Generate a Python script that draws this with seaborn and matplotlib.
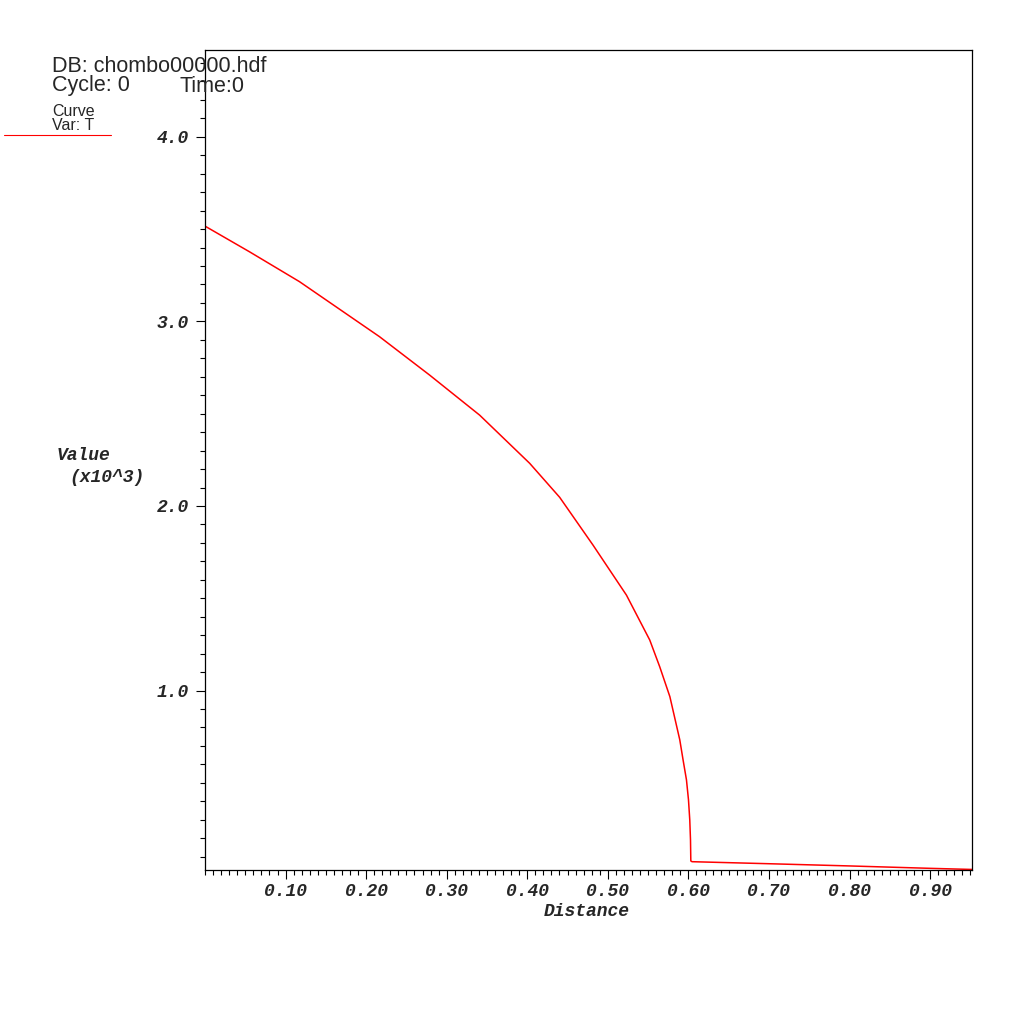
import numpy as np
import pandas as pd
import matplotlib
matplotlib.use("Agg")
import matplotlib.pyplot as plt
import seaborn as sns
from matplotlib.ticker import MultipleLocator, FixedLocator

# Data (Distance, Value in units of 10^3)
distance = [0.0, 0.0552, 0.1173, 0.2166, 0.2788, 0.3409, 0.4030, 0.4402, 0.4816,
            0.5231, 0.5520, 0.5644, 0.5770, 0.5893, 0.5934, 0.5976, 0.6001, 0.6017,
            0.6026, 0.6030, 0.6045, 0.7000, 0.8000, 0.9000, 0.9520]
value = [3.516, 3.377, 3.215, 2.917, 2.709, 2.492, 2.231, 2.047, 1.788,
         1.517, 1.274, 1.129, 0.967, 0.733, 0.624, 0.516, 0.408, 0.299,
         0.191, 0.077, 0.073, 0.062, 0.050, 0.037, 0.031]
x_ticks = [0.10, 0.20, 0.30, 0.40, 0.50, 0.60, 0.70, 0.80, 0.90]
x_tick_labels = ["0.10", "0.20", "0.30", "0.40", "0.50", "0.60", "0.70", "0.80", "0.90"]
y_ticks = [1.0, 2.0, 3.0, 4.0]
y_tick_labels = ["1.0", "2.0", "3.0", "4.0"]

df = pd.DataFrame({"Distance": distance, "Value": value})

sns.set_theme(style="white")
plt.rcParams["font.family"] = ["Liberation Sans", "DejaVu Sans"]

fig = plt.figure(figsize=(10.24, 10.24), dpi=100)
ax = fig.add_axes([205 / 1024, 1 - 870 / 1024, (972 - 205) / 1024, (870 - 50) / 1024])

sns.lineplot(data=df, x="Distance", y="Value", ax=ax, color="#ff0000",
             linewidth=1.1, legend=False)

ax.set_xlim(0.0, 0.952)
ax.set_ylim(0.028, 4.47)

mono = dict(family=["Liberation Mono", "DejaVu Sans Mono"], weight="bold", style="italic")

ax.xaxis.set_major_locator(FixedLocator(x_ticks))
ax.xaxis.set_minor_locator(MultipleLocator(0.01))
ax.yaxis.set_major_locator(FixedLocator(y_ticks))
ax.yaxis.set_minor_locator(MultipleLocator(0.1))
ax.set_xticklabels(x_tick_labels, fontdict=dict(size=13, **mono))
ax.set_yticklabels(y_tick_labels, fontdict=dict(size=13, **mono))

ax.tick_params(axis="both", which="major", direction="out", length=6.5, width=0.8,
               color="black", bottom=True, left=True)
ax.tick_params(axis="both", which="minor", direction="out", length=3.3, width=0.8,
               color="black", bottom=True, left=True)
ax.tick_params(axis="x", which="major", pad=3)
ax.tick_params(axis="y", which="major", pad=5)

for s in ax.spines.values():
    s.set_visible(True)
    s.set_color("black")
    s.set_linewidth(0.9)

ax.set_xlabel("")
ax.set_ylabel("")

fig.text(587 / 1024, 1 - 911 / 1024, "Distance", ha="center", va="center", size=13, **mono)
fig.text(57 / 1024, 1 - 455 / 1024, "Value", ha="left", va="center", size=13, **mono)
fig.text(69 / 1024, 1 - 478 / 1024, "(x10^3)", ha="left", va="center", size=13, **mono)

fig.text(52 / 1024, 1 - 66 / 1024, "DB: chombo00000.hdf", ha="left", va="center", size=15.5)
fig.text(52 / 1024, 1 - 86 / 1024, "Cycle: 0", ha="left", va="center", size=15.5)
fig.text(179 / 1024, 1 - 86 / 1024, "Time:0", ha="left", va="center", size=15.5)
fig.text(52 / 1024, 1 - 111 / 1024, "Curve", ha="left", va="center", size=11.5)
fig.text(52 / 1024, 1 - 126 / 1024, "Var: T", ha="left", va="center", size=11.5)
fig.add_artist(plt.Line2D([4 / 1024, 111 / 1024], [1 - 135 / 1024, 1 - 135 / 1024],
                          color="#ff0000", linewidth=0.8, transform=fig.transFigure))

fig.savefig("out.png", dpi=100, facecolor="white")
